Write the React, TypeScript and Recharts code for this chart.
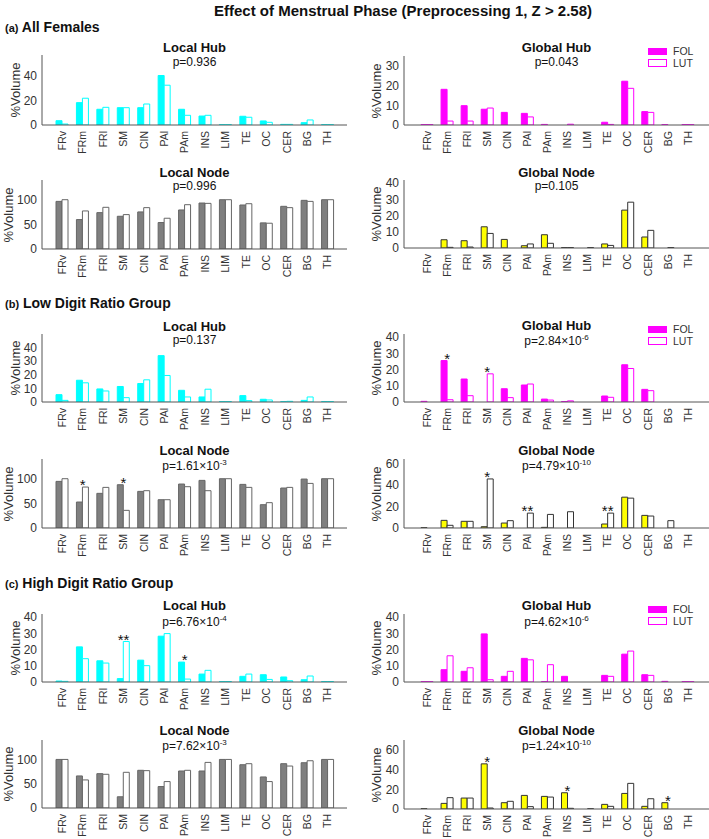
import React from 'react';
import { ComposedChart, Bar, Line, XAxis, YAxis } from 'recharts';

const regions = ['FRv', 'FRm', 'FRl', 'SM', 'CIN', 'PAl', 'PAm', 'INS', 'LIM', 'TE', 'OC', 'CER', 'BG', 'TH'];

// (a) all females
const aLocalHubFol = [3.5, 18.2, 12.8, 14.1, 14.1, 40.3, 12.8, 7.3, 0.3, 7.1, 3.3, 0.5, 1.9, 0.3];
const aLocalHubLut = [0.8, 21.8, 14.4, 14.1, 17.1, 32.4, 7.9, 7.9, 0.3, 6.3, 2.2, 0.5, 4.1, 0.3];
const aGlobalHubFol = [0.2, 18.1, 9.8, 8.0, 6.4, 5.9, 0.3, 0, 0, 1.4, 22.2, 6.8, 0.2, 0.2];
const aGlobalHubLut = [0.2, 2.0, 2.0, 8.6, 0, 4.1, 0, 0.4, 0, 0.3, 18.6, 6.4, 0, 0.2];
const aLocalNodeFol = [96.6, 59.7, 73.8, 66.4, 75.2, 53.7, 79.2, 93.3, 100, 89.3, 53.0, 86.6, 98.7, 100];
const aLocalNodeLut = [100, 77.2, 84.6, 69.8, 83.9, 62.4, 89.9, 92.6, 100, 91.9, 52.3, 83.9, 96.6, 100];
const aGlobalNodeFol = [0, 5.1, 4.5, 13.1, 5.3, 1.4, 8.2, 0.3, 0, 2.5, 23.4, 6.8, 0, 0];
const aGlobalNodeLut = [0, 0.4, 0.6, 9.0, 0, 2.5, 2.9, 0.3, 0.3, 1.6, 28.3, 10.9, 0.3, 0];

// (b) low digit ratio
const bLocalHubFol = [5.4, 16.0, 9.6, 11.4, 13.6, 34.1, 8.6, 3.7, 0.3, 4.7, 2.0, 0.3, 1.2, 0.3];
const bLocalHubLut = [1.2, 14.1, 8.1, 3.2, 16.3, 19.5, 3.7, 9.4, 0.3, 1.0, 1.5, 0.5, 3.7, 0.3];
const bGlobalHubFol = [0.4, 25.6, 14.2, 0, 8.2, 10.5, 1.8, 0.3, 0, 3.7, 23.0, 7.8, 0, 0];
const bGlobalHubLut = [0, 1.4, 3.9, 17.4, 2.7, 11.1, 1.2, 0.7, 0, 2.9, 20.7, 7.0, 0, 0];
const bGlobalHubSig = ['', '*', '', '*', '', '', '', '', '', '', '', '', '', ''];
const bLocalNodeFol = [94.6, 52.7, 70.3, 87.8, 74.3, 57.4, 89.2, 96.6, 100, 88.5, 47.3, 81.1, 99.3, 100];
const bLocalNodeLut = [100, 83.1, 82.4, 35.8, 75.7, 57.4, 83.8, 75.7, 100, 82.4, 51.4, 82.4, 90.5, 100];
const bLocalNodeSig = ['', '*', '', '*', '', '', '', '', '', '', '', '', '', ''];
const bGlobalNodeFol = [0.3, 7.1, 6.2, 1.2, 4.6, 0, 0.6, 0, 0, 3.7, 28.6, 11.7, 0, 0];
const bGlobalNodeLut = [0, 2.5, 6.2, 45.5, 6.8, 13.8, 12.6, 15.1, 0, 13.8, 27.7, 11.1, 6.8, 0];
const bGlobalNodeSig = ['', '', '', '*', '', '**', '', '', '', '**', '', '', '', ''];

// (c) high digit ratio
const cLocalHubFol = [0.6, 21.7, 13.1, 2.1, 13.5, 28.3, 12.3, 4.9, 0.3, 3.5, 4.5, 3.1, 1.4, 0.3];
const cLocalHubLut = [0.4, 14.4, 11.7, 25.0, 10.1, 29.9, 1.8, 7.2, 0.3, 4.9, 1.6, 0.8, 3.7, 0.3];
const cLocalHubSig = ['', '', '', '**', '', '', '*', '', '', '', '', '', '', ''];
const cGlobalHubFol = [0.2, 7.6, 6.6, 29.7, 3.5, 14.6, 0.2, 3.5, 0, 4.1, 17.2, 4.5, 0.4, 0.2];
const cGlobalHubLut = [0.2, 16.2, 8.8, 1.4, 6.6, 13.7, 10.7, 0, 0, 3.5, 19.1, 4.1, 0, 0.2];
const cLocalNodeFol = [100, 66.0, 70.7, 23.1, 77.6, 44.2, 76.2, 76.2, 100, 89.1, 63.9, 91.2, 93.2, 100];
const cLocalNodeLut = [100, 57.8, 69.4, 73.5, 76.9, 54.4, 77.6, 93.9, 100, 91.2, 54.4, 86.4, 97.3, 100];
const cGlobalNodeFol = [0.3, 5.7, 11.1, 45.8, 6.4, 13.8, 12.8, 16.5, 0, 4.7, 15.8, 2.7, 6.4, 0];
const cGlobalNodeLut = [0, 11.5, 11.1, 1.0, 7.8, 2.4, 12.1, 0.7, 0.3, 2.7, 26.0, 10.4, 0, 0];
const cGlobalNodeSig = ['', '', '', '*', '', '', '', '*', '', '', '', '', '*', ''];

const FONT = '"Liberation Sans", Arial, Helvetica, sans-serif';
const AXIS = '#555';
const TEXT = '#333';

const palette: Record<string, { fa: string; sa: string; fb: string; sb: string }> = {
  lh: { fa: '#00ffff', sa: '#00ffff', fb: '#ffffff', sb: '#00ffff' },
  gh: { fa: '#ff00ff', sa: '#ff00ff', fb: '#ffffff', sb: '#ff00ff' },
  ln: { fa: '#7f7f7f', sa: '#666666', fb: '#ffffff', sb: '#666666' },
  gn: { fa: '#ffff00', sa: '#333333', fb: '#ffffff', sb: '#333333' },
};

const RegionTick = (props: any) => {
  const { x, y, payload } = props;
  return (
    <text transform={`translate(${x},${y}) rotate(-90)`} textAnchor="end" dy="0.35em" fontSize={10.5} fill={TEXT}>
      {payload.value}
    </text>
  );
};

// asterisks sit over the centre of the pair, just above the taller bar
const StarDot = (props: any) => {
  const { cx, cy, payload } = props;
  if (!payload || !payload.sig || cy == null) return null;
  return (
    <text x={cx} y={cy + 3} textAnchor="middle" fontSize={15} fill="#111" stroke="none">
      {payload.sig}
    </text>
  );
};

const Label = ({ x, y, size, bold, children }: any) => (
  <div
    style={{
      position: 'absolute',
      left: x,
      top: y,
      transform: 'translate(-50%, -50%)',
      whiteSpace: 'nowrap',
      fontSize: size,
      fontWeight: bold ? 'bold' : 'normal',
      color: '#111',
      lineHeight: 1,
    }}
  >
    {children}
  </div>
);

const Pexp = ({ m, e }: { m: string; e: string }) => (
  <span>
    p={m}×10
    <span style={{ fontSize: 8, position: 'relative', top: -5 }}>{e}</span>
  </span>
);

type PanelProps = {
  col: 0 | 1;
  kind: 'lh' | 'gh' | 'ln' | 'gn';
  top: number;
  bottom: number;
  yMax: number;
  ticks: number[];
  title: string;
  titleY: number;
  p: React.ReactNode;
  pY: number;
  fol: number[];
  lut: number[];
  sig?: string[];
  legend?: boolean;
};

function Panel({ col, kind, top, bottom, yMax, ticks, title, titleY, p, pY, fol, lut, sig, legend }: PanelProps) {
  const left = col === 0 ? 0 : 355;
  const width = col === 0 ? 355 : 354;
  const yw = col === 0 ? 42 : 49;
  const mr = col === 0 ? 8 : 0;
  const pad = col === 0 ? { left: 10, right: 9 } : { left: 13, right: 11 };
  const mt = 8;
  const xh = 34;
  const plotH = bottom - top;
  const c = palette[kind];
  const data = regions.map((r, i) => ({
    region: r,
    fol: fol[i],
    lut: lut[i],
    sig: sig ? sig[i] : '',
    star: sig && sig[i] ? Math.max(fol[i], lut[i]) : null,
  }));
  const centerX = left + yw + (width - yw - mr) / 2;
  const ylabX = col === 0 ? (kind === 'ln' ? 8 : 15) : 376;

  return (
    <>
      <div style={{ position: 'absolute', left, top: top - mt }}>
        <ComposedChart
          width={width}
          height={mt + plotH + xh}
          data={data}
          margin={{ top: mt, right: mr, left: 0, bottom: 0 }}
          barGap={0}
          barSize={6}
        >
          <XAxis
            dataKey="region"
            interval={0}
            height={xh}
            tickLine={false}
            tickSize={0}
            tickMargin={6}
            padding={pad}
            axisLine={{ stroke: AXIS }}
            tick={<RegionTick />}
          />
          <YAxis
            width={yw}
            domain={[0, yMax]}
            ticks={ticks}
            interval={0}
            allowDataOverflow
            tickLine={false}
            tickSize={0}
            tickMargin={5}
            axisLine={{ stroke: AXIS }}
            tick={{ fontSize: 12, fill: TEXT }}
          />
          <Bar dataKey="fol" fill={c.fa} stroke={c.sa} strokeWidth={1} isAnimationActive={false} />
          <Bar dataKey="lut" fill={c.fb} stroke={c.sb} strokeWidth={1} isAnimationActive={false} />
          {sig && (
            <Line dataKey="star" stroke="none" dot={<StarDot />} activeDot={false} isAnimationActive={false} />
          )}
        </ComposedChart>
      </div>
      <Label x={centerX} y={titleY} size={13} bold>
        {title}
      </Label>
      <Label x={centerX} y={pY} size={12}>
        {p}
      </Label>
      <div
        style={{
          position: 'absolute',
          left: ylabX,
          top: (top + bottom) / 2,
          transform: 'translate(-50%, -50%) rotate(-90deg)',
          fontSize: 13,
          color: TEXT,
          whiteSpace: 'nowrap',
          lineHeight: 1,
        }}
      >
        %Volume
      </div>
      {legend && (
        <div style={{ position: 'absolute', left: 648, top: titleY, fontSize: 10.5, color: TEXT, lineHeight: 1 }}>
          <div style={{ display: 'flex', alignItems: 'center', height: 8, marginBottom: 4 }}>
            <span style={{ display: 'inline-block', width: 19, height: 7, background: '#ff00ff', marginRight: 6 }} />
            FOL
          </div>
          <div style={{ display: 'flex', alignItems: 'center', height: 8 }}>
            <span
              style={{
                display: 'inline-block',
                width: 17,
                height: 6,
                border: '1px solid #ff00ff',
                background: '#fff',
                marginRight: 6,
              }}
            />
            LUT
          </div>
        </div>
      )}
    </>
  );
}

const Section = ({ y, tag, text }: { y: number; tag: string; text: string }) => (
  <div style={{ position: 'absolute', left: 5, top: y, transform: 'translateY(-50%)', whiteSpace: 'nowrap', lineHeight: 1, color: '#111' }}>
    <span style={{ fontSize: 11, fontWeight: 'bold' }}>{tag}</span>
    <span style={{ fontSize: 14, fontWeight: 'bold' }}> {text}</span>
  </div>
);

export default function App() {
  return (
    <div
      style={{
        position: 'absolute',
        left: 0,
        top: 0,
        width: 709,
        height: 839,
        background: '#fff',
        fontFamily: FONT,
        overflow: 'hidden',
      }}
    >
      <div
        style={{
          position: 'absolute',
          left: 214,
          top: 3,
          fontSize: 15,
          fontWeight: 'bold',
          whiteSpace: 'nowrap',
          color: '#111',
          lineHeight: 1,
        }}
      >
        Effect of Menstrual Phase (Preprocessing 1, Z &gt; 2.58)
      </div>

      <Section y={27} tag="(a)" text="All Females" />
      <Panel col={0} kind="lh" top={55} bottom={125} yMax={57} ticks={[0, 20, 40]} title="Local Hub" titleY={47} p="p=0.936" pY={62} fol={aLocalHubFol} lut={aLocalHubLut} />
      <Panel col={1} kind="gh" top={56} bottom={125} yMax={35} ticks={[0, 10, 20, 30]} title="Global Hub" titleY={47} p="p=0.043" pY={62} fol={aGlobalHubFol} lut={aGlobalHubLut} legend />
      <Panel col={0} kind="ln" top={180} bottom={249} yMax={140} ticks={[0, 50, 100]} title="Local Node" titleY={172} p="p=0.996" pY={186} fol={aLocalNodeFol} lut={aLocalNodeLut} />
      <Panel col={1} kind="gn" top={180} bottom={248} yMax={42} ticks={[0, 10, 20, 30, 40]} title="Global Node" titleY={172} p="p=0.105" pY={186} fol={aGlobalNodeFol} lut={aGlobalNodeLut} />

      <Section y={303} tag="(b)" text="Low Digit Ratio Group" />
      <Panel col={0} kind="lh" top={334} bottom={402} yMax={50} ticks={[0, 10, 20, 30, 40]} title="Local Hub" titleY={326} p="p=0.137" pY={340} fol={bLocalHubFol} lut={bLocalHubLut} />
      <Panel col={1} kind="gh" top={334} bottom={402} yMax={42} ticks={[0, 10, 20, 30, 40]} title="Global Hub" titleY={325} p={<Pexp m="2.84" e="-6" />} pY={341} fol={bGlobalHubFol} lut={bGlobalHubLut} sig={bGlobalHubSig} legend />
      <Panel col={0} kind="ln" top={459} bottom={528} yMax={140} ticks={[0, 50, 100]} title="Local Node" titleY={450} p={<Pexp m="1.61" e="-3" />} pY={466} fol={bLocalNodeFol} lut={bLocalNodeLut} sig={bLocalNodeSig} />
      <Panel col={1} kind="gn" top={459} bottom={528} yMax={64} ticks={[0, 20, 40, 60]} title="Global Node" titleY={450} p={<Pexp m="4.79" e="-10" />} pY={466} fol={bGlobalNodeFol} lut={bGlobalNodeLut} sig={bGlobalNodeSig} />

      <Section y={583} tag="(c)" text="High Digit Ratio Group" />
      <Panel col={0} kind="lh" top={614} bottom={682} yMax={42} ticks={[0, 10, 20, 30, 40]} title="Local Hub" titleY={605} p={<Pexp m="6.76" e="-4" />} pY={622} fol={cLocalHubFol} lut={cLocalHubLut} sig={cLocalHubSig} />
      <Panel col={1} kind="gh" top={614} bottom={682} yMax={42} ticks={[0, 10, 20, 30, 40]} title="Global Hub" titleY={605} p={<Pexp m="4.62" e="-6" />} pY={622} fol={cGlobalHubFol} lut={cGlobalHubLut} legend />
      <Panel col={0} kind="ln" top={740} bottom={808} yMax={140} ticks={[0, 50, 100]} title="Local Node" titleY={730} p={<Pexp m="7.62" e="-3" />} pY={746} fol={cLocalNodeFol} lut={cLocalNodeLut} />
      <Panel col={1} kind="gn" top={740} bottom={809} yMax={70} ticks={[0, 20, 40, 60]} title="Global Node" titleY={730} p={<Pexp m="1.24" e="-10" />} pY={746} fol={cGlobalNodeFol} lut={cGlobalNodeLut} sig={cGlobalNodeSig} />
    </div>
  );
}
